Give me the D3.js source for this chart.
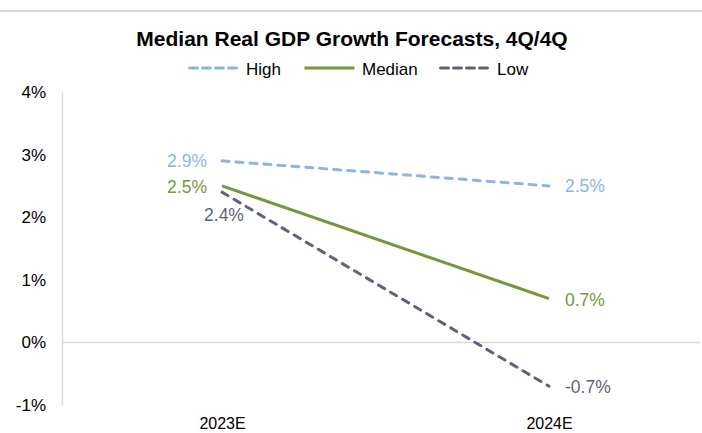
<!DOCTYPE html>
<html><head><meta charset="utf-8">
<script src="https://cdn.jsdelivr.net/npm/d3@7"></script>
<style>body{margin:0;background:#fff;}svg{display:block;font-family:"Liberation Sans",Arial,sans-serif;}</style>
</head><body><svg id="c" width="702" height="433"></svg>
<script>
const categories = ["2023E", "2024E"];
const seriesNames = ["High", "Median", "Low"];
const highValues = [2.9, 2.5];
const medianValues = [2.5, 0.7];
const lowValues = [2.4, -0.7];
const yTicks = [-1, 0, 1, 2, 3, 4];

const svg = d3.select("#c");
const W = 702;
const x = d3.scalePoint().domain(categories).range([222, 549]);
const y = d3.scaleLinear().domain([-1, 4]).range([405, 92]);

svg.append("line").attr("x1",0).attr("x2",W).attr("y1",11).attr("y2",11).attr("stroke","#d9d9d9").attr("stroke-width",2);

svg.append("text").attr("x",352).attr("y",46).attr("text-anchor","middle").attr("font-size",21).attr("font-weight","bold").attr("fill","#000").text("Median Real GDP Growth Forecasts, 4Q/4Q");

const series = [
  {name:"High", values:highValues, color:"#8fb4e3", dash:"7,7"},
  {name:"Median", values:medianValues, color:"#77963c", dash:null},
  {name:"Low", values:lowValues, color:"#5b6577", dash:"7,7"}
];

// legend
const legX = [[188,240,246],[303,356,362],[439,493,497]];
series.forEach((s,i)=>{
  const g = svg.append("g");
  const [a,b,t] = legX[i];
  g.append("line").attr("x1",a+1.5).attr("x2",b-1.5).attr("y1",68).attr("y2",68)
    .attr("stroke",s.color).attr("stroke-width",3).attr("stroke-dasharray",s.dash ? "8,5" : null)
    .attr("stroke-linecap", s.dash ? "round" : "butt");
  g.append("text").attr("x",t).attr("y",75).attr("font-size",17).attr("fill","#000").text(s.name);
});

// y axis
const yAxis = d3.axisLeft(y).tickValues(yTicks).tickSize(0).tickPadding(16).tickFormat(d=>d+"%");
const ga = svg.append("g").attr("transform","translate(62,0)").call(yAxis);
ga.select(".domain").attr("stroke","#d9d9d9").attr("stroke-width",1.5);
ga.selectAll("text").attr("font-size",17).attr("fill","#000").attr("font-family","Liberation Sans, Arial, sans-serif");

// zero line
svg.append("line").attr("x1",62).attr("x2",700).attr("y1",y(0)).attr("y2",y(0)).attr("stroke","#d9d9d9").attr("stroke-width",1.5);

// x labels
const xAxis = d3.axisBottom(x).tickSize(0).tickPadding(0);
const gx = svg.append("g").attr("transform","translate(0,429)").call(xAxis);
gx.select(".domain").remove();
gx.selectAll("text").attr("font-size",16).attr("fill","#000").attr("dy","0").attr("y",0).attr("font-family","Liberation Sans, Arial, sans-serif");

const line = d3.line().x((d,i)=>x(categories[i])).y(d=>y(d));
series.forEach(s=>{
  svg.append("path").datum(s.values).attr("d",line).attr("fill","none")
    .attr("stroke",s.color).attr("stroke-width",3).attr("stroke-dasharray",s.dash)
    .attr("stroke-linecap", s.dash ? "round" : "butt");
});

// data labels
const labelFmt = d=>d.toFixed(1)+"%";
const labelPos = {
  High:[{dx:-15,dy:6,a:"end"},{dx:16,dy:6,a:"start"}],
  Median:[{dx:-15,dy:7,a:"end"},{dx:16,dy:7,a:"start"}],
  Low:[{dx:2,dy:29,a:"middle"},{dx:16,dy:7,a:"start"}]
};
series.forEach(s=>{
  s.values.forEach((v,i)=>{
    const p = labelPos[s.name][i];
    svg.append("text").attr("x",x(categories[i])+p.dx).attr("y",y(v)+p.dy)
      .attr("text-anchor",p.a).attr("font-size",17.5).attr("fill",s.color).text(labelFmt(v));
  });
});
</script></body></html>
